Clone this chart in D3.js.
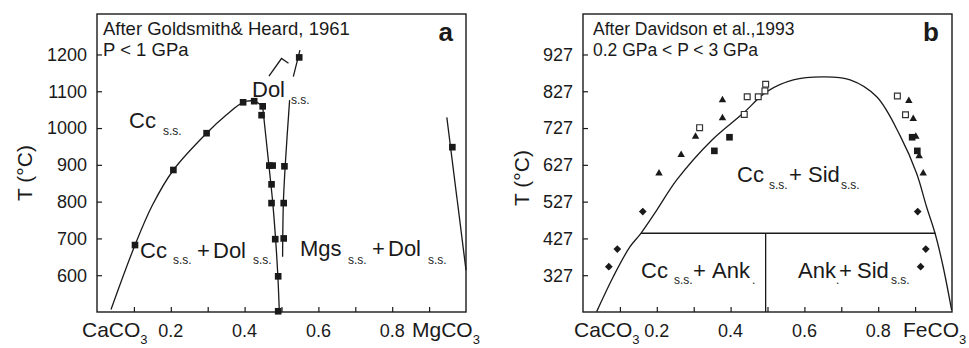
<!DOCTYPE html>
<html>
<head>
<meta charset="utf-8">
<script src="https://cdn.jsdelivr.net/npm/d3@7"></script>
<style>
  html, body { margin: 0; padding: 0; background: #fff; }
  svg { display: block; font-family: "Liberation Sans", Arial, Helvetica, sans-serif; }
</style>
</head>
<body>
<svg id="chart" width="969" height="348"></svg>
<script>
// ---- Shared axis content ----
const compTicks = [0.1, 0.2, 0.3, 0.4, 0.5, 0.6, 0.7, 0.8, 0.9];
const compTickLabels = ["0.2", "0.4", "0.6", "0.8"];
const compLabelValues = [0.2, 0.4, 0.6, 0.8];

// ---- Panel a: CaCO3–MgCO3 (Goldsmith & Heard, 1961) ----
const tempTicksA = [600, 700, 800, 900, 1000, 1100, 1200];
const calciteSolvusA = [[0.038, 507], [0.103, 682], [0.150, 790], [0.207, 886], [0.297, 986],
  [0.351, 1036], [0.396, 1070], [0.426, 1073], [0.449, 1058]];
const dolomiteLeftLimbA = [[0.449, 1058], [0.466, 897], [0.476, 800], [0.484, 698], [0.490, 600], [0.494, 505]];
const dolomiteRightLimbA = [[0.522, 1076], [0.510, 897], [0.505, 795], [0.503, 650]];
const dolomiteUpperA = [[0.532, 1140], [0.550, 1212]];
const dolomiteCaretA = [[0.466, 1141], [0.500, 1189], [0.519, 1176]];
const magnesiteSolvusA = [[0.948, 1029], [1.0, 614]];
const experimentsA = [[0.103, 682], [0.207, 886], [0.297, 986], [0.396, 1070], [0.426, 1073],
  [0.449, 1059], [0.446, 1035], [0.467, 898], [0.476, 898], [0.473, 847], [0.473, 796],
  [0.483, 698], [0.491, 597], [0.491, 502], [0.508, 896], [0.506, 796], [0.506, 700],
  [0.548, 1192], [0.963, 948]];

// ---- Panel b: CaCO3–FeCO3 (Davidson et al., 1993) ----
const tempTicksB = [327, 427, 527, 627, 727, 827, 927];
const solvusB = [[0.037, 228], [0.082, 323], [0.127, 404], [0.157, 441], [0.200, 504], [0.254, 586],
  [0.349, 694], [0.434, 767], [0.498, 826], [0.570, 858], [0.651, 866], [0.724, 858],
  [0.796, 812], [0.860, 705], [0.904, 604], [0.931, 513], [0.954, 441], [0.976, 350], [0.999, 232]];
const ankeriteTieB = [[0.157, 441], [0.955, 441]];
const ankeriteDividerB = [[0.495, 441], [0.495, 227]];
const trianglesB = [[0.206, 604], [0.266, 654], [0.305, 704], [0.378, 754], [0.378, 803],
  [0.883, 801], [0.895, 752], [0.902, 704], [0.911, 651], [0.922, 604]];
const openSquaresB = [[0.316, 728], [0.437, 764], [0.445, 812], [0.475, 812], [0.493, 828],
  [0.495, 846], [0.852, 814], [0.874, 763]];
const filledSquaresB = [[0.356, 665], [0.397, 702], [0.892, 702], [0.906, 665]];
const diamondsB = [[0.070, 350], [0.093, 398], [0.162, 500], [0.907, 500], [0.929, 398], [0.915, 350]];

const svg = d3.select("#chart");
const INK = "#1a1a1a";

function makePanel(opts) {
  const g = svg.append("g").attr("transform", `translate(${opts.left},${opts.top})`);
  const w = opts.width, h = opts.height;
  const x = d3.scaleLinear().domain([0, 1]).range([0, w]);
  const y = d3.scaleLinear().domain(opts.tDomain).range([h, 0]);

  // axes with inward ticks
  const xAxis = d3.axisBottom(x).tickValues(compTicks).tickSize(-5).tickFormat("");
  const yAxis = d3.axisLeft(y).tickValues(opts.tTicks).tickSize(-5).tickFormat("");
  const gx = g.append("g").attr("transform", `translate(0,${h})`).call(xAxis);
  const gy = g.append("g").call(yAxis);
  [gx, gy].forEach(a => {
    a.select(".domain").remove();
    a.selectAll("line").attr("stroke", INK).attr("stroke-width", 1.2);
  });

  // frame
  g.append("rect").attr("x", 0).attr("y", 0).attr("width", w).attr("height", h)
    .attr("fill", "none").attr("stroke", INK).attr("stroke-width", 1.4);

  // tick labels
  g.selectAll(".ylab").data(opts.tTicks).enter().append("text")
    .attr("x", -10).attr("y", d => y(d)).attr("dy", "0.35em")
    .attr("text-anchor", "end").attr("font-size", 18).attr("fill", INK).text(d => d);
  g.selectAll(".xlab").data(compLabelValues).enter().append("text")
    .attr("x", d => x(d)).attr("y", h + 25).attr("text-anchor", "middle")
    .attr("font-size", 18).attr("fill", INK).text((d, i) => compTickLabels[i]);

  // end-member labels
  const endLabel = (px, base) => {
    const t = g.append("text").attr("x", px).attr("y", h + 25).attr("font-size", 21).attr("fill", INK);
    t.append("tspan").text(base);
    t.append("tspan").attr("font-size", 13).attr("dy", 7).text("3");
  };
  endLabel(opts.leftEndX, "CaCO");
  endLabel(opts.rightEndX, opts.rightEnd);

  // axis title
  g.append("text").attr("transform", `translate(${opts.titleX},${opts.titleY}) rotate(-90)`)
    .attr("text-anchor", "middle").attr("font-size", 21).attr("fill", INK).text("T (°C)");

  // header lines and panel letter
  opts.header.forEach((s, i) => g.append("text").attr("x", opts.headerX).attr("y", 21 + i * 21)
    .attr("font-size", opts.headerSize).attr("fill", INK).text(s));
  g.append("text").attr("x", w - 13).attr("y", 27).attr("text-anchor", "end")
    .attr("font-size", 26).attr("font-weight", "bold").attr("fill", INK).text(opts.letter);

  return { g, x, y, w, h };
}

function drawLine(p, pts, curve) {
  const line = d3.line().x(d => p.x(d[0])).y(d => p.y(d[1])).curve(curve || d3.curveLinear);
  p.g.append("path").attr("d", line(pts)).attr("fill", "none")
    .attr("stroke", INK).attr("stroke-width", 1.3);
}

function drawSymbols(p, pts, type, size, filled, rotate) {
  const sym = d3.symbol().type(type).size(size);
  p.g.selectAll(null).data(pts).enter().append("path")
    .attr("d", sym)
    .attr("transform", d => `translate(${p.x(d[0])},${p.y(d[1])})${rotate ? " rotate(45)" : ""}`)
    .attr("fill", filled ? INK : "#fff")
    .attr("stroke", filled ? "none" : "#333").attr("stroke-width", 1.2);
}

// phase-field label: one text element, runs are [text, x, y, size]
function annotate(p, runs) {
  const t = p.g.append("text").attr("fill", INK);
  runs.forEach(r => t.append("tspan").attr("x", r[1]).attr("y", r[2])
    .attr("font-size", r[3]).text(r[0]));
}

// ---- panel a ----
const pa = makePanel({
  left: 97, top: 14, width: 369, height: 298, tDomain: [500, 1310], tTicks: tempTicksA,
  leftEndX: -15, rightEndX: 315, rightEnd: "MgCO", titleX: -65, titleY: 159,
  header: ["After Goldsmith& Heard, 1961", "P < 1 GPa"], headerX: 6, headerSize: 18.5, letter: "a"
});
drawLine(pa, calciteSolvusA, d3.curveCatmullRom);
drawLine(pa, dolomiteLeftLimbA, d3.curveCatmullRom);
drawLine(pa, dolomiteRightLimbA, d3.curveCatmullRom);
drawLine(pa, dolomiteUpperA);
drawLine(pa, dolomiteCaretA);
drawLine(pa, magnesiteSolvusA);
drawSymbols(pa, experimentsA, d3.symbolSquare, 44, true);
annotate(pa, [["Cc", 32, 113.5, 22], ["s.s.", 66, 121, 12]]);
annotate(pa, [["Dol", 155, 83, 22], ["s.s.", 194, 90, 12]]);
annotate(pa, [["Cc", 43, 244, 22], ["s.s.", 76, 250, 12], ["+", 100, 244, 22], ["Dol", 116, 244, 22], ["s.s.", 156, 250, 12]]);
annotate(pa, [["Mgs", 203, 242, 22], ["s.s.", 251, 250, 12], ["+", 275, 242, 22], ["Dol", 291, 242, 22], ["s.s.", 331, 250, 12]]);

// ---- panel b ----
const pb = makePanel({
  left: 583, top: 14, width: 369, height: 298, tDomain: [227, 1037], tTicks: tempTicksB,
  leftEndX: -9, rightEndX: 320, rightEnd: "FeCO", titleX: -54, titleY: 164,
  header: ["After Davidson et al.,1993", "0.2 GPa < P < 3 GPa"], headerX: 10, headerSize: 17.5, letter: "b"
});
drawLine(pb, solvusB, d3.curveCatmullRom);
drawLine(pb, ankeriteTieB);
drawLine(pb, ankeriteDividerB);
drawSymbols(pb, diamondsB, d3.symbolSquare, 30, true, true);
drawSymbols(pb, filledSquaresB, d3.symbolSquare, 44, true);
drawSymbols(pb, openSquaresB, d3.symbolSquare, 34, false);
drawSymbols(pb, trianglesB, d3.symbolTriangle, 24, true);
annotate(pb, [["Cc", 154, 167.5, 22], ["s.s.", 186, 175, 12], ["+", 206, 167.5, 22], ["Sid", 225, 167.5, 22], ["s.s.", 258, 175, 12]]);
annotate(pb, [["Cc", 58, 264, 22], ["s.s.", 91, 270, 12], ["+", 110, 264, 22], ["Ank", 129, 264, 22], [".", 169, 270, 12]]);
annotate(pb, [["Ank", 215, 264, 22], [".", 253, 270, 12], ["+", 256, 264, 22], ["Sid", 274, 264, 22], ["s.s.", 308, 270, 12]]);
</script>
</body>
</html>
